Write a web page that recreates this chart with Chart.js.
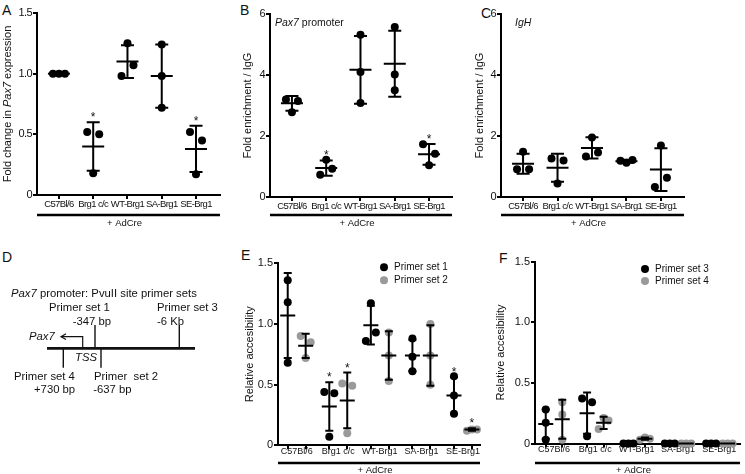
<!DOCTYPE html>
<html>
<head>
<meta charset="utf-8">
<script src="https://cdn.jsdelivr.net/npm/chart.js@4.4.1/dist/chart.umd.min.js"></script>
<style>
  body { margin: 0; background: #fff; width: 745px; height: 474px; position: relative; overflow: hidden;
         font-family: "Liberation Sans", Arial, sans-serif; color: #111; }
  canvas { position: absolute; }
  .letter { position: absolute; font-size: 14px; line-height: 14px; }
  #panelD { position: absolute; left: 0; top: 240px; }
  #panelD text { font-family: "Liberation Sans", Arial, sans-serif; font-size: 11.3px; fill: #111; white-space: pre; }
</style>
</head>
<body>
<div class="letter" style="left:2px;top:3px">A</div>
<div class="letter" style="left:240px;top:3px">B</div>
<div class="letter" style="left:481px;top:6px">C</div>
<div class="letter" style="left:2px;top:250px">D</div>
<div class="letter" style="left:241px;top:248px">E</div>
<div class="letter" style="left:499px;top:251px">F</div>

<canvas id="chartA" width="240" height="235" style="left:0;top:0;width:240px;height:235px"></canvas>
<canvas id="chartB" width="240" height="235" style="left:240px;top:0;width:240px;height:235px"></canvas>
<canvas id="chartC" width="275" height="235" style="left:470px;top:0;width:275px;height:235px"></canvas>
<canvas id="chartE" width="250" height="234" style="left:240px;top:240px;width:250px;height:234px"></canvas>
<canvas id="chartF" width="255" height="234" style="left:490px;top:240px;width:255px;height:234px"></canvas>

<!-- D: schematic of the Pax7 promoter -->
<svg id="panelD" width="245" height="234">
  <text x="11" y="57"><tspan font-style="italic">Pax7</tspan> promoter: PvuII site primer sets</text>
  <text x="49" y="70.7">Primer set 1</text>
  <text x="72.7" y="85">-347 bp</text>
  <text x="157" y="70.7">Primer set 3</text>
  <text x="157" y="85">-6 Kb</text>
  <line x1="47" y1="108.3" x2="195" y2="108.3" stroke="#111" stroke-width="2.7"/>
  <line x1="95" y1="85" x2="95" y2="108.3" stroke="#111" stroke-width="1.4"/>
  <line x1="179.3" y1="85" x2="179.3" y2="108.3" stroke="#111" stroke-width="1.4"/>
  <line x1="63.3" y1="108.3" x2="63.3" y2="127.7" stroke="#111" stroke-width="1.4"/>
  <line x1="101" y1="108.3" x2="101" y2="127.7" stroke="#111" stroke-width="1.4"/>
  <polyline points="82.7,108.3 82.7,96.7 61,96.7" fill="none" stroke="#111" stroke-width="1.2"/>
  <polyline points="66,93.8 61,96.7 66,99.6" fill="none" stroke="#111" stroke-width="1.2"/>
  <text x="29" y="100" font-style="italic">Pax7</text>
  <text x="75" y="121" font-style="italic">TSS</text>
  <text x="14" y="140">Primer set 4</text>
  <text x="34" y="153">+730 bp</text>
  <text x="94" y="140">Primer  set 2</text>
  <text x="93.3" y="153">-637 bp</text>
</svg>

<script>
const FONT = '"Liberation Sans", Arial, sans-serif';
Chart.defaults.font.family = FONT;
Chart.defaults.color = '#111';

const groups = ["C57Bl/6", "Brg1 c/c", "WT-Brg1", "SA-Brg1", "SE-Brg1"];

// A - fold change in Pax7 expression (3 replicates per group)
const exprVals = [[1.0, 1.0, 1.0], [0.18, 0.52, 0.50], [1.25, 0.98, 1.07], [1.24, 0.98, 0.72], [0.17, 0.52, 0.45]];
const exprMean = [1.0, 0.40, 1.10, 0.98, 0.38];
const exprSd = [0, 0.20, 0.135, 0.26, 0.19];
const exprSig = [false, true, false, false, true];

// B - ChIP fold enrichment, Pax7 promoter
const pax7Vals = [[3.20, 3.15, 2.78], [0.73, 1.22, 0.93], [5.32, 4.10, 3.08], [5.57, 4.02, 3.50], [1.04, 1.73, 1.42]];
const pax7Mean = [3.07, 0.95, 4.17, 4.37, 1.40];
const pax7Sd = [0.24, 0.25, 1.11, 1.08, 0.34];
const pax7Sig = [false, true, false, false, true];

// C - ChIP fold enrichment, IgH
const ighVals = [[1.48, 0.91, 0.91], [0.44, 1.26, 1.20], [1.95, 1.33, 1.46], [1.19, 1.12, 1.21], [1.69, 0.33, 0.63]];
const ighMean = [1.09, 0.96, 1.61, 1.17, 0.90];
const ighSd = [0.33, 0.46, 0.35, 0.05, 0.70];

// E - relative accessibility, primer sets 1 and 2
const set1Vals = [[1.36, 1.18, 0.68], [0.07, 0.44, 0.43], [1.17, 0.86, 0.93], [0.88, 0.73, 0.61], [0.57, 0.41, 0.26]];
const set1Mean = [1.07, 0.32, 0.99, 0.74, 0.41];
const set1Sd = [0.35, 0.20, 0.16, 0.13, 0.15];
const set1Sig = [false, true, false, false, true];
const set2Vals = [[0.72, 0.90, 0.85], [0.10, 0.51, 0.49], [0.93, 0.74, 0.53], [1.00, 0.74, 0.50], [0.12, 0.13, 0.13]];
const set2Mean = [0.82, 0.37, 0.74, 0.74, 0.13];
const set2Sd = [0.10, 0.23, 0.20, 0.25, 0.01];
const set2Sig = [false, true, false, false, true];

// F - relative accessibility, primer sets 3 and 4
const set3Vals = [[0.28, 0.17, 0.03], [0.06, 0.37, 0.34], [0, 0, 0], [0, 0, 0], [0, 0, 0]];
const set3Mean = [0.16, 0.25, 0, 0, 0];
const set3Sd = [0.12, 0.17, 0, 0, 0];
const set4Vals = [[0.34, 0.24, 0.03], [0.12, 0.21, 0.19], [0.03, 0.05, 0.04], [0, 0, 0], [0, 0, 0]];
const set4Mean = [0.20, 0.17, 0.04, 0, 0];
const set4Sd = [0.16, 0.05, 0.01, 0, 0];

const BLACK = '#000';
const GREY = '#9a9a9a';

// prism-like scatter: points that touch each other are spread sideways
function spread(vals, thr, d) {
  const idx = vals.map((v, i) => i).sort((a, b) => vals[a] - vals[b]);
  const clusters = [];
  let cur = [idx[0]];
  for (let k = 1; k < idx.length; k++) {
    if (vals[idx[k]] - vals[idx[k - 1]] < thr) cur.push(idx[k]);
    else { clusters.push(cur); cur = [idx[k]]; }
  }
  clusters.push(cur);
  const off = vals.map(() => 0);
  clusters.forEach(c => {
    c.sort((a, b) => a - b);
    const n = c.length;
    c.forEach((p, j) => { off[p] = (j - (n - 1) / 2) * (n === 2 ? 2 * d : d); });
  });
  return off;
}

function dots(valsByGroup, shift, thr, d) {
  const pts = [];
  valsByGroup.forEach((vals, i) => {
    const off = spread(vals, thr, d);
    vals.forEach((v, j) => pts.push({ x: i + shift + off[j], y: v }));
  });
  return pts;
}

function bars(mean, sd, sig, shift) {
  return mean.map((m, i) => ({ x: i + shift, mean: m, sd: sd[i], sig: sig ? sig[i] : false }));
}

function drawParts(ctx, parts, x, y, size) {
  let cx = x;
  parts.forEach(p => {
    ctx.font = (p[1] ? 'italic ' : '') + size + 'px ' + FONT;
    ctx.fillText(p[0], cx, y);
    cx += ctx.measureText(p[0]).width;
  });
}

// mean line + SD whiskers + significance star
function meanSdPlugin(items, meanHalf, capHalf) {
  return {
    id: 'meanSd',
    afterDatasetsDraw(chart) {
      const { ctx, scales: { x, y } } = chart;
      ctx.save();
      ctx.strokeStyle = BLACK;
      ctx.lineWidth = 2;
      ctx.fillStyle = '#111';
      ctx.font = '12px ' + FONT;
      ctx.textAlign = 'center';
      ctx.textBaseline = 'alphabetic';
      items.forEach(it => {
        const px = x.getPixelForValue(it.x);
        const pm = y.getPixelForValue(it.mean);
        const pt = y.getPixelForValue(it.mean + it.sd);
        const pb = y.getPixelForValue(Math.max(0, it.mean - it.sd));
        ctx.beginPath();
        ctx.moveTo(px - meanHalf, pm); ctx.lineTo(px + meanHalf, pm);
        if (it.sd > 0) {
          ctx.moveTo(px, pt); ctx.lineTo(px, pb);
          ctx.moveTo(px - capHalf, pt); ctx.lineTo(px + capHalf, pt);
          ctx.moveTo(px - capHalf, pb); ctx.lineTo(px + capHalf, pb);
        }
        ctx.stroke();
        if (it.sig) ctx.fillText('*', px, pt - 1);
      });
      ctx.restore();
    }
  };
}

// "+ AdCre" bracket under the category labels
function adCrePlugin(lineOff, textOff) {
  return {
    id: 'adCre',
    afterDraw(chart) {
      const { ctx, chartArea: a } = chart;
      ctx.save();
      ctx.strokeStyle = BLACK;
      ctx.lineWidth = 2.6;
      ctx.beginPath();
      ctx.moveTo(a.left, a.bottom + lineOff);
      ctx.lineTo(a.right, a.bottom + lineOff);
      ctx.stroke();
      ctx.fillStyle = '#111';
      ctx.font = '9.5px ' + FONT;
      ctx.textAlign = 'center';
      ctx.textBaseline = 'middle';
      ctx.fillText('+ AdCre', (a.left + a.right) / 2 - 4, a.bottom + textOff);
      ctx.restore();
    }
  };
}

// tighter tracking for the crowded group labels (scales draw before datasets)
const tightLabels = {
  id: 'tightLabels',
  beforeDraw(chart) { chart.ctx.letterSpacing = '-0.6px'; },
  beforeDatasetsDraw(chart) { chart.ctx.letterSpacing = '0px'; }
};

// rotated y title (allows italic gene names) and in-plot annotation
function textPlugin(titleParts, titleX, note, noteDx, noteDy) {
  return {
    id: 'texts',
    afterDraw(chart) {
      const { ctx, chartArea: a } = chart;
      ctx.save();
      ctx.fillStyle = '#111';
      ctx.textBaseline = 'middle';
      let total = 0;
      titleParts.forEach(p => {
        ctx.font = (p[1] ? 'italic ' : '') + '11px ' + FONT;
        total += ctx.measureText(p[0]).width;
      });
      ctx.translate(titleX, (a.top + a.bottom) / 2);
      ctx.rotate(-Math.PI / 2);
      drawParts(ctx, titleParts, -total / 2, 0, 11);
      ctx.restore();
      if (note) {
        ctx.save();
        ctx.fillStyle = '#111';
        ctx.textBaseline = 'middle';
        drawParts(ctx, note, a.left + noteDx, a.top + noteDy, 10.5);
        ctx.restore();
      }
    }
  };
}

// two-row dot legend inside the plot
function legendPlugin(dx, dy, gap) {
  return {
    id: 'dotLegend',
    afterDraw(chart) {
      const { ctx, chartArea: a } = chart;
      ctx.save();
      ctx.font = '10px ' + FONT;
      ctx.textBaseline = 'middle';
      chart.data.datasets.forEach((ds, i) => {
        const cx = a.right - dx, cy = a.top + dy + i * gap;
        ctx.fillStyle = ds.pointBackgroundColor;
        ctx.beginPath();
        ctx.arc(cx, cy, 4, 0, Math.PI * 2);
        ctx.fill();
        ctx.fillStyle = '#111';
        ctx.fillText(ds.label, cx + 10, cy);
      });
      ctx.restore();
    }
  };
}

function yAxis(max, step, width, fmt) {
  return {
    type: 'linear', position: 'left', min: 0, max: max,
    afterFit: s => { s.width = width; },
    ticks: { stepSize: step, font: { size: 11 }, padding: 1, color: '#111', callback: fmt },
    grid: { drawOnChartArea: false, tickLength: 4, color: BLACK, lineWidth: 2 },
    border: { color: BLACK, width: 2 }
  };
}

function groupAxis(min, max, height) {
  return {
    type: 'linear', position: 'bottom', min: min, max: max,
    afterBuildTicks: s => { s.ticks = groups.map((g, i) => ({ value: i })); },
    afterFit: s => { s.height = height; },
    ticks: { callback: v => groups[v], autoSkip: false, maxRotation: 0, minRotation: 0,
             font: { size: 9.5 }, padding: 0, color: '#111' },
    grid: { drawOnChartArea: false, tickLength: 4, color: BLACK, lineWidth: 2 },
    border: { color: BLACK, width: 2 }
  };
}

// one axis: tick marks at each primer set, group label centred between them
function pairedAxis(min, max, shift, height) {
  return {
    type: 'linear', position: 'bottom', min: min, max: max,
    afterBuildTicks: s => { s.ticks = groups.flatMap((g, i) => [{ value: i - shift }, { value: i }, { value: i + shift }]); },
    afterFit: s => { s.height = height; },
    ticks: { callback: (v, i) => (i % 3 === 1 ? groups[(i - 1) / 3] : ''), autoSkip: false,
             maxRotation: 0, minRotation: 0, font: { size: 9 }, padding: -3, color: '#111' },
    grid: { drawOnChartArea: false, tickLength: 4, lineWidth: 2,
            color: c => (c.index % 3 === 1 ? 'rgba(0,0,0,0)' : BLACK),
            tickColor: c => (c.index % 3 === 1 ? 'rgba(0,0,0,0)' : BLACK) },
    border: { color: BLACK, width: 2 }
  };
}

function scatterSet(label, data, color, r) {
  return {
    type: 'scatter', label: label, data: data,
    pointBackgroundColor: color, pointBorderWidth: 0, pointRadius: r,
    showLine: false, clip: false
  };
}

function makeChart(id, datasets, scales, padding, plugins) {
  return new Chart(document.getElementById(id), {
    type: 'scatter',
    data: { datasets: datasets },
    options: {
      responsive: false, maintainAspectRatio: false, animation: false, devicePixelRatio: 1,
      layout: { padding: padding },
      scales: scales,
      plugins: { legend: { display: false }, tooltip: { enabled: false } }
    },
    plugins: plugins
  });
}

const fmt1 = v => (v === 0 ? '0' : v.toFixed(1));
const fmt0 = v => String(v);

// A
makeChart('chartA',
  [scatterSet('Pax7 expression', dots(exprVals, 0, 0.1, 0.175), BLACK, 4)],
  { x: groupAxis(-0.64, 4.7, 40), y: yAxis(1.5, 0.5, 37, fmt1) },
  { top: 13, right: 20, left: 0, bottom: 0 },
  [tightLabels, meanSdPlugin(bars(exprMean, exprSd, exprSig, 0), 11, 6.5), adCrePlugin(20, 28),
   textPlugin([['Fold change in ', false], ['Pax7', true], [' expression', false]], 8)]);

// B
makeChart('chartB',
  [scatterSet('Pax7 promoter', dots(pax7Vals, 0, 0.34, 0.175), BLACK, 4)],
  { x: groupAxis(-0.64, 4.67, 38), y: yAxis(6, 2, 30, fmt0) },
  { top: 14, right: 28, left: 0, bottom: 0 },
  [tightLabels, meanSdPlugin(bars(pax7Mean, pax7Sd, pax7Sig, 0), 11, 6.5), adCrePlugin(18, 26.5),
   textPlugin([['Fold enrichment / IgG', false]], 7.5, [['Pax7', true], [' promoter', false]], 5, 9)]);

// C
makeChart('chartC',
  [scatterSet('IgH', dots(ighVals, 0, 0.34, 0.175), BLACK, 4)],
  { x: groupAxis(-0.64, 4.67, 38), y: yAxis(6, 2, 31, fmt0) },
  { top: 14, right: 61, left: 0, bottom: 0 },
  [tightLabels, meanSdPlugin(bars(ighMean, ighSd, null, 0), 11, 6.5), adCrePlugin(18, 26.5),
   textPlugin([['Fold enrichment / IgG', false]], 10, [['IgH', true]], 14, 9)]);

// E
const offE = 0.216;
makeChart('chartE',
  [scatterSet('Primer set 1', dots(set1Vals, -offE, 0.085, 0.12), BLACK, 4),
   scatterSet('Primer set 2', dots(set2Vals, offE, 0.085, 0.12), GREY, 4)],
  { x: pairedAxis(-0.45, 4.41, offE, 28.7), y: yAxis(1.5, 0.5, 38, fmt1) },
  { top: 23.3, right: 10, left: 0, bottom: 0 },
  [meanSdPlugin(bars(set1Mean, set1Sd, set1Sig, -offE).concat(bars(set2Mean, set2Sd, set2Sig, offE)), 7.5, 4),
   adCrePlugin(17.7, 25), legendPlugin(96, 4, 13),
   textPlugin([['Relative accesibility', false]], 10)]);

// F
const offF = 0.2;
makeChart('chartF',
  [scatterSet('Primer set 3', dots(set3Vals, -offF, 0.085, 0.12), BLACK, 4),
   scatterSet('Primer set 4', dots(set4Vals, offF, 0.085, 0.12), GREY, 4)],
  { x: pairedAxis(-0.46, 4.5, offF, 30.5), y: yAxis(1.5, 0.5, 45, fmt1) },
  { top: 21.5, right: 5, left: 0, bottom: 0 },
  [meanSdPlugin(bars(set3Mean, set3Sd, null, -offF).concat(bars(set4Mean, set4Sd, null, offF)), 7.5, 4),
   adCrePlugin(19.5, 26.5), legendPlugin(95, 7.5, 12),
   textPlugin([['Relative accesibility', false]], 11)]);
</script>
</body>
</html>
